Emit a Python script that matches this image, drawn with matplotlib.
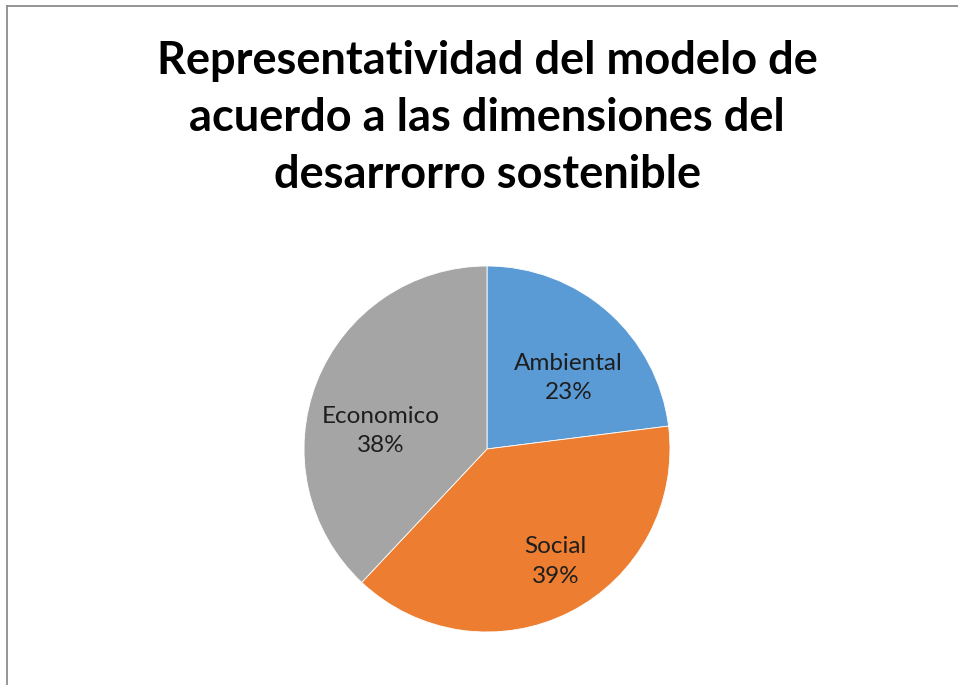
import matplotlib
matplotlib.use("Agg")
import matplotlib.pyplot as plt
import numpy as np

plt.rcParams['font.family'] = ['Lato', 'DejaVu Sans']

# Dimensiones del desarrollo sostenible
dimensiones = ['Ambiental', 'Social', 'Economico']
porcentajes = [23, 39, 38]
colores = ['#5B9BD5', '#ED7D31', '#A5A5A5']

# posición de las etiquetas (fracción del radio, ángulo en grados)
pos_etiquetas = [(0.59, 41), (0.72, -58.6), (0.588, 170.4)]

W, H = 958, 685
fig = plt.figure(figsize=(W / 100, H / 100), dpi=100)

# marco del gráfico
fig.add_artist(plt.Line2D([7 / W, 7 / W], [0, 1 - 6 / H], color='#8c8c8c', lw=1.3))
fig.add_artist(plt.Line2D([7 / W, 1], [1 - 6 / H, 1 - 6 / H], color='#8c8c8c', lw=1.3))

fig.text(487 / W, 1 - 118 / H,
         'Representatividad del modelo de\nacuerdo a las dimensiones del\ndesarrorro sostenible',
         ha='center', va='center', fontsize=32.5, fontweight='bold', linespacing=1.43)

cx, cy, r = 487, 449, 183
ax = fig.add_axes([(cx - r) / W, (H - cy - r) / H, 2 * r / W, 2 * r / H])
ax.pie(porcentajes, colors=colores, startangle=90, counterclock=False,
       wedgeprops=dict(edgecolor='white', linewidth=0.6))
ax.set_xlim(-1, 1)
ax.set_ylim(-1, 1)
ax.set_aspect('equal')
ax.axis('off')

for nombre, pct, (dist, ang) in zip(dimensiones, porcentajes, pos_etiquetas):
    x = dist * np.cos(np.radians(ang))
    y = dist * np.sin(np.radians(ang))
    ax.text(x, y, f'{nombre}\n{pct}%', ha='center', va='center',
            fontsize=17.5, color='#1e1e1e', linespacing=1.5)

fig.savefig('out.png', dpi=100)
